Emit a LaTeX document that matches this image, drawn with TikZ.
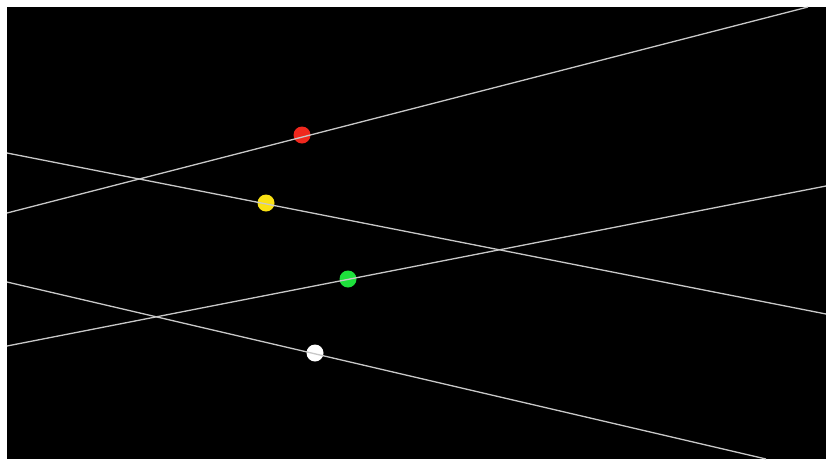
\documentclass[tikz,border=0pt]{standalone}
\usepackage{xcolor}
\usepackage{tikz}
\definecolor{panelbg}{RGB}{0,0,0}
\definecolor{trackline}{RGB}{200,200,200}
\definecolor{dotred}{RGB}{240,40,30}
\definecolor{dotyellow}{RGB}{250,225,20}
\definecolor{dotgreen}{RGB}{30,225,60}
\definecolor{dotwhite}{RGB}{255,255,255}

\begin{document}
\begin{tikzpicture}[
    x=1pt, y=-1pt,
    dot/.style={circle, inner sep=0pt, minimum size=17pt},
    track/.style={draw=trackline, line width=1.3pt}
  ]
    \useasboundingbox (0,0) rectangle (826,459);
    \fill[white] (0,0) rectangle (826,459);
    \fill[panelbg] (7,7) rectangle (826,459);
    % moving points
    \node[dot, fill=dotred] (red) at (302,135) {};
    \node[dot, fill=dotyellow] (yellow) at (266,203) {};
    \node[dot, fill=dotgreen] (green) at (348,279) {};
    \node[dot, fill=dotwhite] (white) at (315,353) {};
    % line ends
    \coordinate (redA) at (7,213);
    \coordinate (redB) at (808,7);
    \coordinate (yellowA) at (7,153);
    \coordinate (yellowB) at (826,314);
    \coordinate (greenA) at (7,346);
    \coordinate (greenB) at (826,186);
    \coordinate (whiteA) at (7,282);
    \coordinate (whiteB) at (766,459);
    \draw[track] (redA) -- (redB);
    \draw[track] (yellowA) -- (yellowB);
    \draw[track] (greenA) -- (greenB);
    \draw[track] (whiteA) -- (whiteB);
  \end{tikzpicture}
\end{document}
